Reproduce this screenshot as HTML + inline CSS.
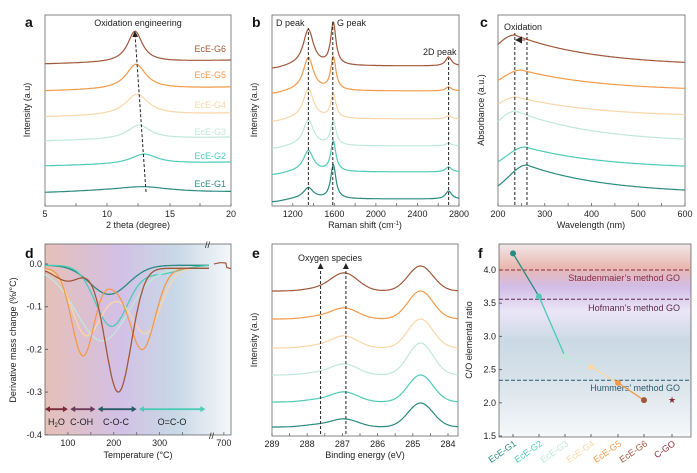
<!DOCTYPE html>
<html><head><meta charset="utf-8"><style>
body{margin:0;background:#fff}
svg{display:block;font-family:"Liberation Sans",sans-serif}
.t{font-size:9px;fill:#222}
.lab{font-size:9px;fill:#222}
.pl{font-size:14px;font-weight:bold;fill:#111}
</style></head><body>
<svg id="s" width="697" height="473" viewBox="0 0 697 473" xmlns="http://www.w3.org/2000/svg">
<defs>
<linearGradient id="gd" x1="0" x2="1" y1="0" y2="0">
<stop offset="0" stop-color="#e6c0b8"/><stop offset="0.4" stop-color="#d3c0e6"/><stop offset="0.7" stop-color="#c8d8e6"/><stop offset="1" stop-color="#f4f7fa"/></linearGradient>
<linearGradient id="gf" x1="0" x2="0" y1="0" y2="1">
<stop offset="0" stop-color="#f0e8e8"/><stop offset="0.12" stop-color="#eab8b0"/><stop offset="0.22" stop-color="#d2bde6"/><stop offset="0.35" stop-color="#ebe6f7"/><stop offset="0.5" stop-color="#cbd9e4"/><stop offset="0.7" stop-color="#d7e2ea"/><stop offset="1" stop-color="#f6f8fa"/></linearGradient>
<marker id="ah" markerWidth="6" markerHeight="6" refX="3" refY="3" orient="auto"><path d="M0,0L6,3L0,6z" fill="#222"/></marker>
</defs>
<g id="g"></g>
</svg>
<script>
const C=['#2a8a80','#4ecbb7','#bfe8dc','#fbd6a8','#f39a4a','#a0583a'];
const gEl=document.getElementById('g');let h='';
function P(f,x0,x1,n,col,w){let d='';for(let i=0;i<=n;i++){const x=x0+(x1-x0)*i/n;const y=f(x);d+=(i?'L':'M')+x.toFixed(1)+','+y.toFixed(1);}h+=`<path d="${d}" fill="none" stroke="${col}" stroke-width="${w||1.2}"/>`;}
const L=(x,c,w)=>1/(1+Math.pow((x-c)/w,2));const G=(x,c,w)=>Math.exp(-Math.pow((x-c)/w,2));
function box(x0,y0,x1,y1){h+=`<rect x="${x0}" y="${y0}" width="${x1-x0}" height="${y1-y0}" fill="none" stroke="#666" stroke-width="0.8"/>`;}
function xt(ticks,y){ticks.forEach(([x,t])=>{h+=`<line x1="${x}" y1="${y}" x2="${x}" y2="${y-3}" stroke="#666" stroke-width="0.8"/>`;if(t!=null)h+=`<text class="t" x="${x}" y="${y+11}" text-anchor="middle">${t}</text>`;});}
function yl(x,y,t){h+=`<text class="lab" transform="translate(${x},${y}) rotate(-90)" text-anchor="middle">${t}</text>`;}
function dash(x1,y1,x2,y2,arrow){h+=`<line x1="${x1}" y1="${y1}" x2="${x2}" y2="${y2}" stroke="#222" stroke-width="1" stroke-dasharray="3,2" ${arrow?'marker-end="url(#ah)"':''}/>`;}
// ---- a
box(45,15,231,206);
xt([[45,5],[76],[107,10],[138],[170,15],[200],[231,20]],206);
h+=`<text class="lab" x="138" y="228" text-anchor="middle">2 theta (degree)</text>`;yl(30,110,'Intensity (a.u)');
h+=`<text class="pl" x="25" y="27">a</text><text class="lab" x="138" y="26" text-anchor="middle">Oxidation engineering</text>`;
const A=[[193,4,144,30],[166,10,144,16],[141,14,139,14],[117,21,137,14],[91,25,136,12],[64,31,135,9]];
A.forEach(([b,a,c,w],i)=>P(x=>b+(x-45)*(-0.02)*(i?1:0.3)-a*L(x,c,w)+(i?0:-2*G(x,120,60)),45,231,150,C[i]));
['EcE-G1','EcE-G2','EcE-G3','EcE-G4','EcE-G5','EcE-G6'].forEach((t,i)=>h+=`<text class="lab" x="226" y="${[187,159,135,108,78,52][i]}" text-anchor="end" style="fill:${C[i]}">${t}</text>`);
dash(146,192,135,34,1);
// ---- b
box(272,15,459,206);
const bx=v=>272+(v-1000)/1800*187;
xt([[bx(1200),1200],[bx(1400)],[bx(1600),1600],[bx(1800)],[bx(2000),2000],[bx(2200)],[bx(2400),2400],[bx(2600)],[bx(2800),2800]],206);
h+=`<text class="lab" x="365" y="228" text-anchor="middle">Raman shift (cm<tspan font-size="6" dy="-3">-1</tspan><tspan dy="3">)</tspan></text>`;yl(257,110,'Intensity (a.u)');
h+=`<text class="pl" x="252" y="27">b</text><text class="lab" x="276" y="26">D peak</text><text class="lab" x="337" y="26">G peak</text><text class="lab" x="423" y="55">2D peak</text>`;
const B=[[199,11,34,8],[172,21,30,5],[146,26,25,3],[119,30,24,3],[91,33,33,4],[66,36,42,9]];
B.forEach(([b,d,gg,d2],i)=>P(x=>{const v=1000+(x-272)/187*1800;return b-d*L(v,1350,60)-gg*L(v,1590,30)-d2*L(v,2700,35)+3*G(v,1000,150);},272,459,300,C[i]));
dash(bx(1350),205,bx(1350),28);dash(bx(1585),205,bx(1585),20);dash(bx(2700),205,bx(2700),58);
// ---- c
box(498,15,685,206);
const cx=v=>498+(v-200)/400*187;
xt([[cx(200),200],[cx(250)],[cx(300),300],[cx(350)],[cx(400),400],[cx(450)],[cx(500),500],[cx(550)],[cx(600),600]],206);
h+=`<text class="lab" x="591" y="228" text-anchor="middle">Wavelength (nm)</text>`;yl(484,110,'Absorbance (a.u.)');
h+=`<text class="pl" x="480" y="27">c</text><text class="lab" x="504" y="30">Oxidation</text>`;
const Cc=[[194,29,262,55],[169,22,258,55],[143,32,238,60],[117,20,240,60],[91,21,250,60],[66,31,236,60]];
Cc.forEach(([b,a,pk,s],i)=>P(x=>{const v=200+(x-498)/187*400;const f=v>=pk?Math.exp(-(v-pk)/170):Math.exp(-Math.pow((v-pk)/s,2));return b-a*f;},498,685,200,C[i]));
dash(cx(236),205,cx(236),33);dash(cx(262),205,cx(262),33);
h+=`<line x1="${cx(258)}" y1="40" x2="${cx(244)}" y2="40" stroke="#c0504d" stroke-width="1.2" marker-end="url(#ah)"/>`;
// ---- d
h+=`<rect x="45" y="244" width="186" height="191" fill="url(#gd)"/>`;box(45,244,231,435);
const dx=v=>v<=410?45+(v-50)/360*165:212+(v-650)/80*19;const dy=v=>264-v*427;
xt([[dx(100),100],[dx(150)],[dx(200),200],[dx(250)],[dx(300),300],[dx(350)],[dx(700),700]],435);
[0,-0.1,-0.2,-0.3,-0.4].forEach(v=>{h+=`<line x1="45" y1="${dy(v)}" x2="48" y2="${dy(v)}" stroke="#666"/><text class="t" x="42" y="${dy(v)+3}" text-anchor="end">${v.toFixed(1)}</text>`;});
h+=`<text class="lab" x="138" y="458" text-anchor="middle">Temperature (°C)</text>`;yl(16,340,'Derivative mass change (%/°C)');
h+=`<text class="pl" x="25" y="258">d</text><text class="t" x="205" y="248">//</text><text class="t" x="209" y="439">//</text>`;
const D=[v=>-0.003-0.068*G(v,190,60),v=>-0.003-0.142*G(v,195,50)-0.02*G(v,300,60),v=>-0.01-0.17*G(v,175,80),v=>-0.01-0.155*G(v,140,45)-0.15*G(v,270,45)-0.04*G(v,205,40),v=>-0.01-0.205*G(v,133,35)-0.19*G(v,262,40)-0.03*G(v,200,30),v=>-0.01-0.03*G(v,100,40)-0.29*G(v,210,40)];
D.forEach((f,i)=>{P(x=>dy(f(50+(x-45)/165*360)),45,209,200,C[i],1.3);});
P(x=>dy(0.003*Math.sin((x-214)/5)-0.01*(x>226?1:0)),214,231,20,'#a0583a',1.2);
const ar=[[50,100,'#7a2a3a','H<tspan font-size="6" dy="2">2</tspan><tspan dy="-2">O</tspan>',75],[105,160,'#6a3a5a','C-OH',130],[165,250,'#2a5a6a','C-O-C',205],[255,400,'#4ecbb7','O=C-O',327]];
ar.forEach(([a,b,col,t,tc])=>{h+=`<line x1="${dx(a)+3}" y1="${dy(-0.34)}" x2="${dx(b)-3}" y2="${dy(-0.34)}" stroke="${col}" stroke-width="1.8"/><path d="M${dx(a)},${dy(-0.34)}l5,-3v6z M${dx(b)},${dy(-0.34)}l-5,-3v6z" fill="${col}"/><text class="lab" x="${dx(tc)}" y="${dy(-0.34)+16}" text-anchor="middle">${t}</text>`;});
// ---- e
box(272,244,458,436);
const ex=v=>272+(289-v)*35.2;
xt([[ex(289),289],[ex(288.5)],[ex(288),288],[ex(287.5)],[ex(287),287],[ex(286.5)],[ex(286),286],[ex(285.5)],[ex(285),285],[ex(284.5)],[ex(284),284]],436);
h+=`<text class="lab" x="365" y="458" text-anchor="middle">Binding energy (eV)</text>`;yl(257,340,'Intensity (a.u)');
h+=`<text class="pl" x="252" y="258">e</text><text class="lab" x="298" y="261">Oxygen species</text>`;
const E=[[427,8,24],[402,10,27],[375,11,32],[348,12,29],[319,11,28],[291,18,25]];
E.forEach(([b,o,p],i)=>P(x=>{const v=289-(x-272)/35.2;return b-o*G(v,286.95,0.55)-p*G(v,284.78,0.5)-2*G(v,287.8,0.5);},272,458,200,C[i]));
dash(ex(287.62),434,ex(287.62),266,1);dash(ex(286.9),434,ex(286.9),266,1);
// ---- f
h+=`<rect x="499" y="244" width="192" height="193" fill="url(#gf)"/>`;box(499,244,691,437);
const fy=v=>436-(v-1.5)*66.4;
[1.5,2.0,2.5,3.0,3.5,4.0].forEach(v=>{h+=`<line x1="499" y1="${fy(v)}" x2="502" y2="${fy(v)}" stroke="#666"/><text class="t" x="496" y="${fy(v)+3}" text-anchor="end">${v.toFixed(1)}</text>`;});
yl(472,340,'C/O elemental ratio');h+=`<text class="pl" x="478" y="258">f</text>`;
[[4.0,'#8a2a3a','Staudenmaier’s method GO',281],[3.56,'#5a2a4a','Hofmann’s method GO',311],[2.34,'#2a5a6a','Hummers’ method GO',391]].forEach(([v,c,t,ty])=>{h+=`<line x1="499" y1="${fy(v)}" x2="691" y2="${fy(v)}" stroke="${c}" stroke-dasharray="4,2" stroke-width="1"/><text class="lab" x="680" y="${ty}" text-anchor="end" style="fill:${c}">${t}</text>`;});
const fx=[513,539,565,591,618,644,672],fv=[4.25,3.6,2.7,2.54,2.3,2.04];const fc=['#2a8a80','#4ecbb7','#bfe8dc','#fbd6a8','#f39a4a','#a0583a','#8a2a3a'];
for(let i=0;i<5;i++)h+=`<line x1="${fx[i]}" y1="${fy(fv[i])}" x2="${fx[i+1]}" y2="${fy(fv[i+1])}" stroke="${fc[i]}" stroke-width="1.3"/>`;
fv.forEach((v,i)=>h+=`<circle cx="${fx[i]}" cy="${fy(v)}" r="3" fill="${fc[i]}"/>`);
h+=`<text x="672" y="${fy(2.04)+3}" font-size="9" text-anchor="middle" fill="#8a2a3a">★</text>`;
['EcE-G1','EcE-G2','EcE-G3','EcE-G4','EcE-G5','EcE-G6','C-GO'].forEach((t,i)=>{h+=`<line x1="${fx[i]}" y1="437" x2="${fx[i]}" y2="434" stroke="#666"/><text class="lab" transform="translate(${fx[i]+4},445) rotate(-35)" text-anchor="end" style="fill:${fc[i]}">${t}</text>`;});
gEl.innerHTML=h;
</script>
</body></html>
